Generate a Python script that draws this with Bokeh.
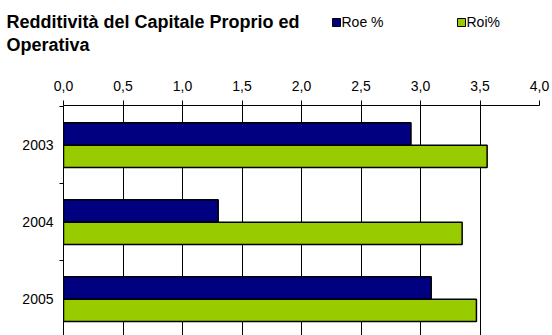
from bokeh.plotting import figure
from bokeh.layouts import column
from bokeh.models import (Range1d, FixedTicker, Label, Legend, LegendItem,
                          ColumnDataSource)
from bokeh.transform import dodge
from bokeh.embed import file_html
from bokeh.resources import INLINE

# ---- data ----
years = ["2003", "2004", "2005"]
roe = [2.92, 1.30, 3.09]
roi = [3.56, 3.35, 3.47]
series_names = ["Roe %", "Roi%"]
x_ticks = [0.0, 0.5, 1.0, 1.5, 2.0, 2.5, 3.0, 3.5, 4.0]
x_tick_labels = ["0,0", "0,5", "1,0", "1,5", "2,0", "2,5", "3,0", "3,5", "4,0"]
title_lines = ["Redditività del Capitale Proprio ed", "Operativa"]

FONT = "Liberation Sans"
NAVY = "#000080"
GREEN = "#99CC00"
COLORS = [NAVY, GREEN]

W = 552
HH = 61            # header height (title + legend)
H = 335 - HH       # main chart height
ML, MR, MT, MB = 63, 13, 44, 0

idx = list(range(len(years)))
src = ColumnDataSource(dict(idx=idx, year=years, roe=roe, roi=roi))


def no_frame_align(fig):
    if "frame_align" in fig.properties():
        fig.frame_align = False


# ---------------- header: title + legend ----------------
h = figure(width=W, height=HH, x_range=Range1d(0, W),
           y_range=Range1d(1000, 1000 + HH),
           x_axis_location=None, y_axis_location=None,
           output_backend="svg", toolbar_location=None,
           min_border_left=0, min_border_right=0,
           min_border_top=0, min_border_bottom=0)
h.outline_line_color = None
h.grid.grid_line_color = None
h.background_fill_color = "white"
h.border_fill_color = "white"
no_frame_align(h)

for line, base in zip(title_lines, [21, 44.5]):
    h.add_layout(Label(x=6, y=HH - base, x_units="screen", y_units="screen",
                       text=line, text_font=FONT, text_font_size="18px",
                       text_font_style="bold", text_baseline="alphabetic",
                       text_align="left", text_color="black"))

# legend proxies: same series, drawn outside the header's visible range
proxies = [
    h.rect(x="roe", y="idx", width=1, height=1, source=src,
           fill_color=NAVY, line_color="black", line_width=1),
    h.rect(x="roi", y="idx", width=1, height=1, source=src,
           fill_color=GREEN, line_color="black", line_width=1),
]
for name, proxy, lx in zip(series_names, proxies, [330.5, 455.5]):
    lg = Legend(items=[LegendItem(label=name, renderers=[proxy])],
                location=(lx, HH - 30), orientation="horizontal",
                glyph_width=10, glyph_height=10, label_height=10,
                label_width=10, label_standoff=1, padding=0, margin=0,
                spacing=0, border_line_color=None, background_fill_alpha=0,
                label_text_font=FONT, label_text_font_size="14px",
                label_text_baseline="middle", label_text_color="black")
    h.add_layout(lg, "center")

# ---------------- main chart ----------------
y_top = -0.515
y_bot = y_top + (H - MT - MB) / 77.0

p = figure(width=W, height=H, x_range=Range1d(0, 4),
           y_range=Range1d(y_bot, y_top),
           x_axis_location="above", output_backend="svg",
           toolbar_location=None,
           min_border_left=ML, min_border_right=MR,
           min_border_top=MT, min_border_bottom=MB)
p.outline_line_color = None
p.background_fill_color = "white"
p.border_fill_color = "white"
no_frame_align(p)

bw = 0.29
r1 = p.hbar(y=dodge("idx", -bw / 2, range=p.y_range), left=0, right="roe",
            height=bw, source=src, fill_color=NAVY, line_color="black",
            line_width=1.5)
r2 = p.hbar(y=dodge("idx", bw / 2, range=p.y_range), left=0, right="roi",
            height=bw, source=src, fill_color=GREEN, line_color="black",
            line_width=1.5)

# x axis (top)
xa = p.xaxis[0]
xa.ticker = FixedTicker(ticks=x_ticks)
xa.major_label_overrides = {t: l for t, l in zip(x_ticks, x_tick_labels)}
xa.major_tick_out = 5
xa.major_tick_in = 0
xa.minor_tick_line_color = None
xa.axis_line_color = "black"
xa.major_tick_line_color = "black"
xa.major_label_text_font = FONT
xa.major_label_text_font_size = "14px"
xa.major_label_text_color = "black"
xa.major_label_standoff = 10

# y axis (left)
ya = p.yaxis[0]
ya.ticker = FixedTicker(ticks=idx,
                        minor_ticks=[i - 0.5 for i in idx + [len(idx)]])
ya.major_label_overrides = {i: y for i, y in zip(idx, years)}
ya.major_tick_out = 0
ya.major_tick_in = 0
ya.minor_tick_out = 4
ya.minor_tick_in = 0
ya.minor_tick_line_color = "black"
ya.axis_line_color = "black"
ya.major_label_text_font = FONT
ya.major_label_text_font_size = "14px"
ya.major_label_text_color = "black"
ya.major_label_standoff = 6

p.xgrid.ticker = FixedTicker(ticks=x_ticks)
p.xgrid.grid_line_color = "black"
p.xgrid.grid_line_alpha = 1.0
p.ygrid.grid_line_color = None

layout = column(h, p, spacing=0)
open("out.html", "w").write(file_html(layout, INLINE))
